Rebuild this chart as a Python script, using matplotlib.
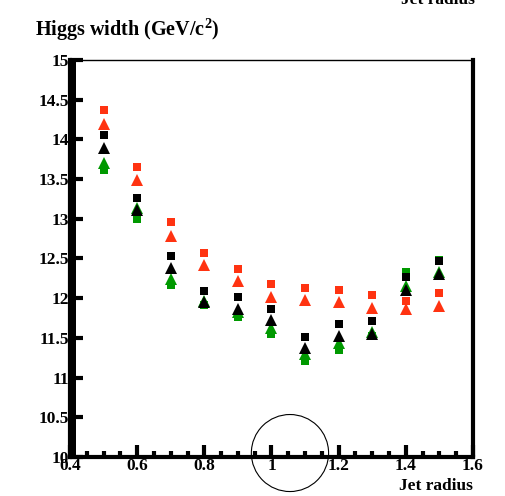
import matplotlib.pyplot as plt
from matplotlib.patches import Ellipse
from matplotlib.ticker import MultipleLocator

plt.rcParams['font.family'] = ['Liberation Serif', 'DejaVu Serif']
plt.rcParams['font.weight'] = 'bold'
plt.rcParams['mathtext.fontset'] = 'custom'
plt.rcParams['mathtext.bf'] = 'Liberation Serif:bold'
plt.rcParams['mathtext.rm'] = 'Liberation Serif:bold'

# jet radius values
radius = [0.5, 0.6, 0.7, 0.8, 0.9, 1.0, 1.1, 1.2, 1.3, 1.4, 1.5]

# fitted Higgs width (GeV/c^2), two markers per colour
red_sq = [14.37, 13.65, 12.96, 12.57, 12.37, 12.18, 12.13, 12.10, 12.04, 11.96, 12.07]
red_tri = [14.20, 13.49, 12.78, 12.42, 12.22, 12.01, 11.98, 11.95, 11.88, 11.87, 11.90]
blk_sq = [14.05, 13.26, 12.53, 12.09, 12.02, 11.86, 11.51, 11.67, 11.71, 12.27, 12.47]
blk_tri = [13.89, 13.11, 12.38, 11.95, 11.87, 11.72, 11.37, 11.52, 11.55, 12.10, 12.31]
grn_sq = [13.62, 13.00, 12.17, 11.92, 11.76, 11.55, 11.21, 11.35, 11.52, 12.33, 12.48]
grn_tri = [13.70, 13.13, 12.24, 11.97, 11.83, 11.63, 11.30, 11.44, 11.58, 12.15, 12.33]

red = '#ff3311'
green = '#009900'

fig = plt.figure(figsize=(5.06, 4.96), dpi=100)
ax = fig.add_axes([70/506, 1-457/496, 403/506, 397/496])

ax.plot(radius, red_sq, 's', color=red, ms=6.3, mew=0)
ax.plot(radius, red_tri, '^', color=red, ms=9, mew=0)
ax.plot(radius, grn_sq, 's', color=green, ms=6.3, mew=0)
ax.plot(radius, grn_tri, '^', color=green, ms=9, mew=0)
ax.plot(radius, blk_sq, 's', color='black', ms=6.3, mew=0)
ax.plot(radius, blk_tri, '^', color='black', ms=9, mew=0)

ax.set_xlim(0.4, 1.6)
ax.set_ylim(10, 15)
ax.xaxis.set_major_locator(MultipleLocator(0.2))
ax.xaxis.set_minor_locator(MultipleLocator(0.05))
ax.yaxis.set_major_locator(MultipleLocator(0.5))
ax.yaxis.set_minor_locator(MultipleLocator(0.05))
ax.set_xticks([0.4, 0.6, 0.8, 1.0, 1.2, 1.4, 1.6], ['0.4', '0.6', '0.8', '1', '1.2', '1.4', '1.6'])
ax.set_yticks([10, 10.5, 11, 11.5, 12, 12.5, 13, 13.5, 14, 14.5, 15],
              ['10', '10.5', '11', '11.5', '12', '12.5', '13', '13.5', '14', '14.5', '15'])

ax.tick_params(which='both', direction='in', width=3, top=False, right=False,
               labelsize=12.5, pad=1)
ax.tick_params(which='major', length=9)
ax.tick_params(which='minor', length=4.5)
for lab in ax.get_xticklabels() + ax.get_yticklabels():
    lab.set_fontweight('bold')

for side in ['left', 'bottom', 'right']:
    ax.spines[side].set_linewidth(3)
ax.spines['top'].set_linewidth(1)

fig.text(35/506, 1-30/496, 'Higgs width (GeV/c$^{\\mathbf{2}}$)', fontsize=14.5,
         fontweight='bold', va='center', ha='left')
fig.text(473/506, 1-486/496, 'Jet radius', fontsize=12.5, fontweight='bold',
         va='center', ha='right')
fig.text(475/506, 1.0, 'Jet radius', fontsize=12.5, fontweight='bold',
         va='center', ha='right')

ax.add_patch(Ellipse((1.055, 10.05), 0.23, 0.97, fill=False, lw=0.8,
                     color='black', clip_on=False))

fig.savefig('out.png', dpi=100)
